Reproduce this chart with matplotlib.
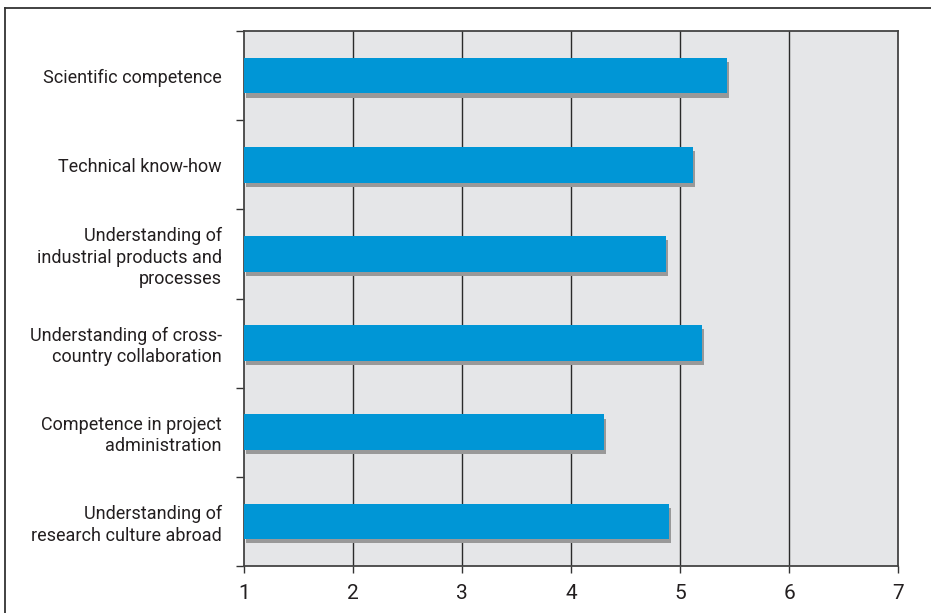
import matplotlib
matplotlib.use("Agg")
import matplotlib.pyplot as plt
import matplotlib.patheffects as pe
from matplotlib.lines import Line2D

# survey categories (top to bottom) and their mean scores on a 1-7 scale
categories = [
    "Scientific competence",
    "Technical know-how",
    "Understanding of\nindustrial products and\nprocesses",
    "Understanding of cross-\ncountry collaboration",
    "Competence in project\nadministration",
    "Understanding of\nresearch culture abroad",
]
scores = [5.43, 5.12, 4.87, 5.20, 4.30, 4.90]
x_ticks = [1, 2, 3, 4, 5, 6, 7]

plt.rcParams['font.family'] = ['Roboto', 'DejaVu Sans']

fig = plt.figure(figsize=(9.31, 6.13), dpi=100)
ax = fig.add_axes([244 / 931, 1 - 566 / 613, 654 / 931, 535 / 613])
ax.set_facecolor("#e5e6e8")

n = len(categories)
ypos = [n - 1 - i for i in range(n)]
shadow = [pe.SimplePatchShadow(offset=(1.5, -3), shadow_rgbFace="#999999", alpha=1.0),
          pe.Normal()]
ax.barh(ypos, [s - 1 for s in scores], left=1, height=0.40,
        color="#0096d6", zorder=3, path_effects=shadow)

ax.set_xlim(1, 7)
ax.set_ylim(-0.5, n - 0.5)

# vertical grid lines at every whole score
for v in x_ticks[1:-1]:
    ax.axvline(v, color="#2a2a2a", lw=1.0, zorder=1)

ax.set_xticks(x_ticks)
ax.set_xticklabels([str(v) for v in x_ticks], fontsize=15, color="#231f20")
ax.tick_params(axis="x", length=5, width=1, color="#333333", pad=8)

# y ticks sit on category boundaries, labels at category centres
ax.set_yticks([k - 0.5 for k in range(n + 1)])
ax.set_yticklabels([])
ax.tick_params(axis="y", length=6, width=1, color="#333333")
ax.set_yticks(ypos, minor=True)
ax.set_yticklabels(categories, minor=True, fontsize=13, color="#231f20",
                   linespacing=1.22)
ax.tick_params(axis="y", which="minor", length=0, pad=16)

for side in ["left", "bottom", "top", "right"]:
    ax.spines[side].set_color("#444444")
    ax.spines[side].set_linewidth(1.3)

# frame around the whole figure (top and left edges visible)
fig.add_artist(Line2D([5 / 931, 5 / 931], [0, 1 - 8 / 613], color="#333333", lw=1.3))
fig.add_artist(Line2D([5 / 931, 1], [1 - 8 / 613, 1 - 8 / 613], color="#333333", lw=1.3))

fig.savefig("out.png", dpi=100)
